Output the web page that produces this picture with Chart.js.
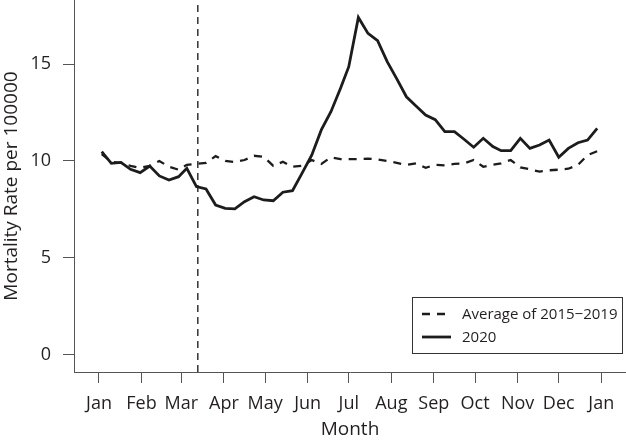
<!DOCTYPE html>
<html>
<head>
<meta charset="utf-8">
<script src="https://cdn.jsdelivr.net/npm/chart.js@4.4.1/dist/chart.umd.min.js"></script>
<style>
  html, body { margin: 0; padding: 0; background: #fff; }
  #wrap { width: 626px; height: 441px; }
</style>
</head>
<body>
<div id="wrap"><canvas id="chart"></canvas></div>
<script>
// month ticks (day of year 2020)
const monthLabels = ['Jan', 'Feb', 'Mar', 'Apr', 'May', 'Jun', 'Jul', 'Aug', 'Sep', 'Oct', 'Nov', 'Dec', 'Jan']
const monthStartDays = [0, 31, 60, 91, 121, 152, 182, 213, 244, 274, 305, 335, 366]
const yTicks = [0, 5, 10, 15]

// weekly points, day of year
const weekDays = [
  2, 9, 16, 23, 30, 37, 44, 51, 58, 64, 71, 78, 85, 92, 99, 106, 113, 120,
  127, 134, 141, 148, 155, 162, 169, 176, 182, 189, 196, 203, 210, 217, 224,
  231, 238, 245, 252, 259, 266, 273, 280, 287, 293, 300, 307, 314, 321, 328,
  335, 342, 349, 356, 363,
]

const average2015to2019 = [
  10.35, 9.95, 9.9, 9.75, 9.65, 9.75, 10.0, 9.7, 9.55, 9.8, 9.85, 9.9, 10.25,
  10.0, 9.95, 10.05, 10.27, 10.22, 9.75, 9.96, 9.7, 9.75, 10.05, 9.85, 10.19,
  10.1, 10.1, 10.1, 10.12, 10.08, 10.0, 9.9, 9.8, 9.88, 9.65, 9.8, 9.77, 9.85,
  9.88, 10.05, 9.7, 9.8, 9.88, 10.05, 9.67, 9.57, 9.45, 9.52, 9.55, 9.6, 9.8,
  10.3, 10.5,
]

const rate2020 = [
  10.48, 9.88, 9.93, 9.57, 9.4, 9.74, 9.23, 9.02, 9.19, 9.62, 8.68, 8.56, 7.73,
  7.56, 7.53, 7.9, 8.16, 7.99, 7.95, 8.39, 8.47, 9.37, 10.3, 11.6, 12.54, 13.75,
  14.86, 17.4, 16.58, 16.2, 15.12, 14.23, 13.31, 12.84, 12.37, 12.13, 11.51,
  11.51, 11.12, 10.71, 11.17, 10.74, 10.53, 10.53, 11.17, 10.65, 10.82, 11.08,
  10.19, 10.65, 10.94, 11.08, 11.68,
]

// national emergency, 13 March
const lockdownDay = 72

const yMin = -0.88
const yMax = 18.3
const xMin = -18.2
const xMax = 384

const fontFamily = "'Open Sans', 'Noto Sans', sans-serif"
const textColor = '#231f20'
const axisColor = '#555'
const lineColor = '#1c1c1c'

const toPoints = (values) => values.map((v, i) => ({ x: weekDays[i], y: v }))

const legendBox = {
  id: 'legendBox',
  afterDraw(chart) {
    const ctx = chart.ctx
    const items = chart.data.datasets.filter((d) => d.inLegend)
    ctx.save()
    ctx.strokeStyle = '#333'
    ctx.lineWidth = 1
    ctx.strokeRect(412.5, 297.5, 210, 56)
    ctx.font = `15px ${fontFamily}`
    ctx.fillStyle = textColor
    ctx.textBaseline = 'middle'
    items.forEach((d, i) => {
      const y = 314 + i * 23
      ctx.beginPath()
      ctx.strokeStyle = d.borderColor
      ctx.lineWidth = d.borderWidth
      ctx.setLineDash(d.borderDash || [])
      ctx.moveTo(422, y)
      ctx.lineTo(451, y)
      ctx.stroke()
      ctx.setLineDash([])
      ctx.fillText(d.label, 462, y + 1)
    })
    ctx.restore()
  },
}

new Chart(document.getElementById('chart').getContext('2d'), {
  type: 'line',
  data: {
    datasets: [
      {
        label: 'Average of 2015\u22122019',
        data: toPoints(average2015to2019),
        borderColor: lineColor,
        borderWidth: 2.3,
        borderDash: [8, 7],
        pointRadius: 0,
        tension: 0,
        inLegend: true,
      },
      {
        label: '2020',
        data: toPoints(rate2020),
        borderColor: lineColor,
        borderWidth: 2.8,
        pointRadius: 0,
        tension: 0,
        inLegend: true,
      },
      {
        label: 'lockdown',
        data: [
          { x: lockdownDay, y: yMin },
          { x: lockdownDay, y: yMax },
        ],
        borderColor: '#333',
        borderWidth: 1.5,
        borderDash: [7, 5],
        pointRadius: 0,
      },
    ],
  },
  options: {
    responsive: true,
    maintainAspectRatio: false,
    animation: false,
    layout: { padding: 0 },
    plugins: {
      legend: { display: false },
      tooltip: { enabled: false },
    },
    scales: {
      x: {
        type: 'linear',
        min: xMin,
        max: xMax,
        afterBuildTicks: (scale) => {
          scale.ticks = monthStartDays.map((v) => ({ value: v }))
        },
        afterFit: (scale) => {
          scale.height = 69
          scale.paddingLeft = 0
          scale.paddingRight = 0
        },
        ticks: {
          autoSkip: false,
          maxRotation: 0,
          padding: 10,
          color: textColor,
          font: { family: fontFamily, size: 18 },
          callback: (value, index) => monthLabels[index],
        },
        grid: {
          drawOnChartArea: false,
          drawTicks: true,
          tickLength: 11,
          color: axisColor,
        },
        border: { display: true, color: axisColor, width: 1 },
        title: {
          display: true,
          text: 'Month',
          color: textColor,
          font: { family: fontFamily, size: 19 },
          padding: { top: 0, bottom: 0 },
        },
      },
      y: {
        min: yMin,
        max: yMax,
        afterBuildTicks: (scale) => {
          scale.ticks = yTicks.map((v) => ({ value: v }))
        },
        afterFit: (scale) => {
          scale.width = 74
          scale.paddingTop = 0
          scale.paddingBottom = 0
        },
        ticks: {
          padding: 12,
          color: textColor,
          font: { family: fontFamily, size: 18 },
        },
        grid: {
          drawOnChartArea: false,
          drawTicks: true,
          tickLength: 11,
          color: axisColor,
        },
        border: { display: true, color: axisColor, width: 1 },
        title: {
          display: true,
          text: 'Mortality Rate per 100000',
          color: textColor,
          font: { family: fontFamily, size: 19 },
          padding: { top: 0, bottom: 0 },
        },
      },
    },
  },
  plugins: [legendBox],
})
</script>
</body>
</html>
